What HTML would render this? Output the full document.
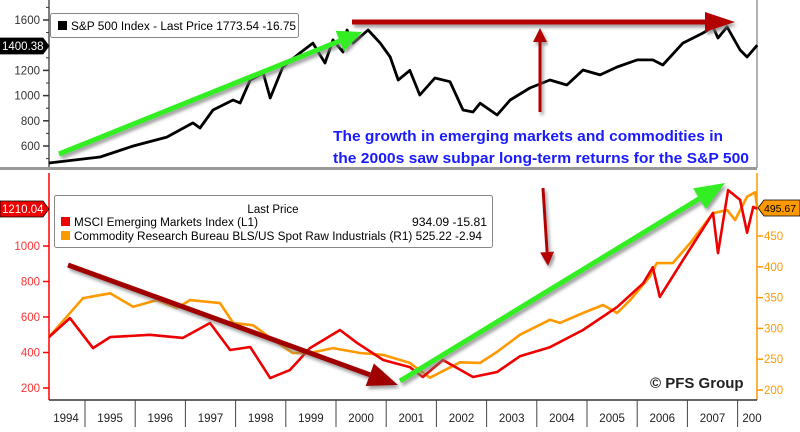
<!DOCTYPE html>
<html><head><meta charset="utf-8"><style>
body{margin:0;background:#fff;font-family:"Liberation Sans",sans-serif;}
svg text{font-family:"Liberation Sans",sans-serif;}
</style></head><body>
<svg id="chart" width="800" height="427" viewBox="0 0 800 427" xmlns="http://www.w3.org/2000/svg">
<defs>
<filter id="sh" x="-10%" y="-10%" width="120%" height="130%"><feDropShadow dx="2" dy="3" stdDeviation="1.5" flood-color="#777" flood-opacity="0.7"/></filter>
</defs>
<rect width="800" height="427" fill="#fff"/>
<g id="axes"></g>
<g id="series"></g>
<g id="annot"></g>
</svg>
<script>
const spxDates=[1994.28,1995.30,1995.96,1996.63,1997.15,1997.29,1997.55,1997.95,1998.09,1998.29,1998.55,1998.69,1998.94,1999.28,1999.54,1999.78,1999.94,2000.14,2000.22,2000.34,2000.64,2000.88,2001.08,2001.24,2001.47,2001.67,2001.97,2002.27,2002.53,2002.73,2002.87,2003.21,2003.47,2003.86,2004.26,2004.60,2004.92,2005.26,2005.60,2006.00,2006.31,2006.51,2006.91,2007.31,2007.51,2007.61,2007.79,2008.05,2008.19,2008.39];
const spxValues=[465,513,600,671,783,743,886,965,941,1124,1180,981,1227,1338,1417,1259,1441,1346,1521,1417,1521,1417,1306,1124,1200,1005,1140,1110,886,870,940,846,965,1060,1124,1084,1203,1164,1227,1283,1283,1243,1417,1497,1545,1457,1545,1362,1306,1400];
const emDates=[1994.28,1994.70,1995.16,1995.50,1996.29,1996.95,1997.49,1997.89,1998.29,1998.69,1999.08,1999.48,2000.08,2000.42,2000.94,2001.47,2001.73,2002.13,2002.73,2003.21,2003.67,2004.26,2004.92,2005.60,2006.12,2006.31,2006.45,2006.91,2007.51,2007.61,2007.81,2008.05,2008.19,2008.31,2008.39];
const emValues=[487,594,425,487,500,482,566,414,431,256,301,425,527,454,358,318,262,358,262,290,380,430,527,656,790,880,713,920,1186,960,1315,1260,1075,1220,1210];
const crbDates=[1994.28,1994.96,1995.50,1995.96,1996.43,1996.83,1997.09,1997.69,1997.95,1998.35,1998.75,1999.14,1999.48,1999.94,2000.48,2000.94,2001.47,2001.87,2002.47,2002.87,2003.21,2003.67,2004.26,2004.46,2004.92,2005.32,2005.60,2005.86,2006.25,2006.39,2006.71,2007.05,2007.51,2007.79,2007.95,2008.19,2008.35,2008.39];
const crbValues=[286,349,357,335,346,333,346,341,309,305,281,260,260,268,260,257,244,220,245,244,262,290,314,309,325,338,325,346,384,406,406,438,487,492,476,514,521,496];
const years=["1994","1995","1996","1997","1998","1999","2000","2001","2002","2003","2004","2005","2006","2007","200"];
const spxTicks=[600,800,1000,1200,1400,1600];
const emTicks=[200,400,600,800,1000];
const crbTicks=[200,250,300,350,400,450];

const NS="http://www.w3.org/2000/svg";
const X=y=>85+(y-1995)*50.2;
const Ytop=v=>146-(v-600)*0.126;
const Yem=v=>388-(v-200)*0.1775;
const Ycrb=v=>390-(v-200)*0.616;
function mk(parent,tag,attrs,txt){const e=document.createElementNS(NS,tag);for(const k in attrs)e.setAttribute(k,attrs[k]);if(txt!==undefined)e.textContent=txt;document.getElementById(parent).appendChild(e);return e;}

let e;
e=mk('axes','line',{x1:49,y1:0,x2:49,y2:168,stroke:'#555','stroke-width':1.5});


e=mk('axes','line',{x1:757,y1:0,x2:757,y2:168,stroke:'#999','stroke-width':1.5});


e=mk('axes','rect',{x:0,y:167,width:757,height:3,fill:'#999'});


e=mk('axes','line',{x1:49,y1:173,x2:49,y2:400,stroke:'#f00','stroke-width':1.5});


e=mk('axes','line',{x1:757,y1:173,x2:757,y2:400,stroke:'#f90','stroke-width':1.5});


e=mk('axes','line',{x1:49,y1:400,x2:757,y2:400,stroke:'#333','stroke-width':1.5});



spxTicks.forEach(t=>{const y=Ytop(t);
 e=mk('axes','line',{x1:43,y1:y,x2:49,y2:y,stroke:'#333','stroke-width':1.5});
 
 
 if(t!==1400){e=mk('axes','text',{x:40,y:y+4,'text-anchor':'end','font-size':11.5,fill:'#333'},t);
 
 }
});
for(let v=500;v<=1700;v+=100){e=mk('axes','line',{x1:46,y1:Ytop(v),x2:49,y2:Ytop(v),stroke:'#333'});}
emTicks.forEach(t=>{const y=Yem(t);
 e=mk('axes','line',{x1:43,y1:y,x2:49,y2:y,stroke:'#f00','stroke-width':1.5});
 
 
 e=mk('axes','text',{x:40,y:y+4,'text-anchor':'end','font-size':11.5,fill:'#f33'},t);
 
 
});
crbTicks.forEach(t=>{const y=Ycrb(t);
 e=mk('axes','line',{x1:757,y1:y,x2:763,y2:y,stroke:'#f90','stroke-width':1.5});
 
 
 e=mk('axes','text',{x:764,y:y+4,'font-size':11.5,fill:'#f90'},t);
 
 
});
years.forEach((yr,i)=>{const y0=1994+i;
 const xs=X(y0+1);
 if(xs<757){e=mk('axes','line',{x1:xs,y1:400,x2:xs,y2:427,stroke:'#444'});}
 const cx=Math.max(66,Math.min(X(y0+0.5),752));
 e=mk('axes','text',{x:cx,y:422,'text-anchor':'middle','font-size':11.5,fill:'#222'},yr);
 
 
});

function line(dates,vals,ys,color,w,name){
 const d=dates.map((t,i)=>(i?'L':'M')+X(t).toFixed(1)+','+ys(vals[i]).toFixed(1)).join('');
 const p=mk('series','path',{d:d,fill:'none',stroke:color,'stroke-width':w,'stroke-linejoin':'round'});
 
 
}
line(crbDates,crbValues,Ycrb,'#ff9900',2.6,'crb-line');
line(emDates,emValues,Yem,'#ee0000',2.6,'msci-em-line');
line(spxDates,spxValues,Ytop,'#000',2.8,'spx-line');

function tag(x,y,w,fill,tc,txt,name,right,fs){
 const pts=right?`${x},${y} ${x+6},${y-8} ${x+w},${y-8} ${x+w},${y+8} ${x+6},${y+8}`:`${x},${y-8} ${x+w-6},${y-8} ${x+w},${y} ${x+w-6},${y+8} ${x},${y+8}`;
 e=mk('axes','polygon',{points:pts,fill:fill,stroke:'#000','stroke-width':0.8});
 
 
 e=mk('axes','text',{x:right?x+6:x+2,y:y+4,'font-size':fs,fill:tc},txt);
 
 
}
tag(0,46,49,'#000','#fff','1400.38','spx-last-tag',false,11.5);
tag(0,209,49,'#e00','#fff','1210.04','em-last-tag',false,11.5);
tag(758,208,42,'#f90','#000','495.67','crb-last-tag',true,10.5);

e=mk('annot','rect',{x:50.5,y:13.5,width:248,height:24,fill:'#fff',stroke:'#888',rx:2});


e=mk('annot','rect',{x:58,y:21,width:9,height:9,fill:'#000'});


e=mk('annot','text',{x:71,y:30,'font-size':11.5,fill:'#000',textLength:225,lengthAdjust:'spacingAndGlyphs'},'S&P 500 Index - Last Price 1773.54  -16.75');



e=mk('annot','rect',{x:54.5,y:195.5,width:438,height:52,fill:'#fff',stroke:'#888',rx:2});


e=mk('annot','text',{x:273,y:213,'text-anchor':'middle','font-size':11.5,fill:'#000'},'Last Price');


e=mk('annot','rect',{x:61,y:217,width:9,height:9,fill:'#e00'});


e=mk('annot','text',{x:74,y:226,'font-size':11.5,fill:'#000',textLength:184,lengthAdjust:'spacingAndGlyphs'},'MSCI Emerging Markets Index  (L1)');


e=mk('annot','text',{x:412,y:226,'font-size':11.5,fill:'#000',textLength:75,lengthAdjust:'spacingAndGlyphs'},'934.09  -15.81');


e=mk('annot','rect',{x:61,y:231,width:9,height:9,fill:'#f90'});


e=mk('annot','text',{x:74,y:240,'font-size':11.5,fill:'#000',textLength:408,lengthAdjust:'spacingAndGlyphs'},'Commodity Research Bureau BLS/US Spot Raw Industrials  (R1) 525.22  -2.94');



function arrow(x1,y1,x2,y2,color,w,hl,hw,name){
 const a=Math.atan2(y2-y1,x2-x1),c=Math.cos(a),s=Math.sin(a);
 const bx=x2-c*hl,by=y2-s*hl;
 const g=mk('annot','g',{filter:'url(#sh)'});
 
 
 const l=document.createElementNS(NS,'line');
 [['x1',x1],['y1',y1],['x2',bx],['y2',by],['stroke',color],['stroke-width',w]].forEach(p=>l.setAttribute(p[0],p[1]));
 g.appendChild(l);
 const p=document.createElementNS(NS,'polygon');
 p.setAttribute('points',`${x2},${y2} ${bx-s*hw},${by+c*hw} ${bx+s*hw},${by-c*hw}`);
 p.setAttribute('fill',color);
 g.appendChild(p);
}
arrow(59,154,362,32,'#33ee22',5,24,11,'green-arrow-top');
arrow(352,22,735,22,'#b30000',5,30,10,'red-arrow-horizontal');
arrow(540,112,540,28,'#b30000',3,14,7,'red-arrow-up');
arrow(68,265,398,385,'#a00000',5,30,12,'red-arrow-down');
arrow(543,188,548,266,'#b30000',3,14,7,'red-arrow-small');
arrow(400,381,725,183,'#33ee22',5,30,12,'green-arrow-bottom');

e=mk('annot','text',{x:333,y:141,'font-size':15,'font-weight':'bold',fill:'#1a1aff',textLength:390,lengthAdjust:'spacingAndGlyphs'},'The growth in emerging markets and commodities in');


e=mk('annot','text',{x:333,y:163,'font-size':15,'font-weight':'bold',fill:'#1a1aff',textLength:416,lengthAdjust:'spacingAndGlyphs'},'the 2000s saw subpar long-term returns for the S&P 500');


e=mk('annot','text',{x:650,y:388,'font-size':15,'font-weight':'bold',fill:'#222'},'© PFS Group');


</script>
</body></html>
